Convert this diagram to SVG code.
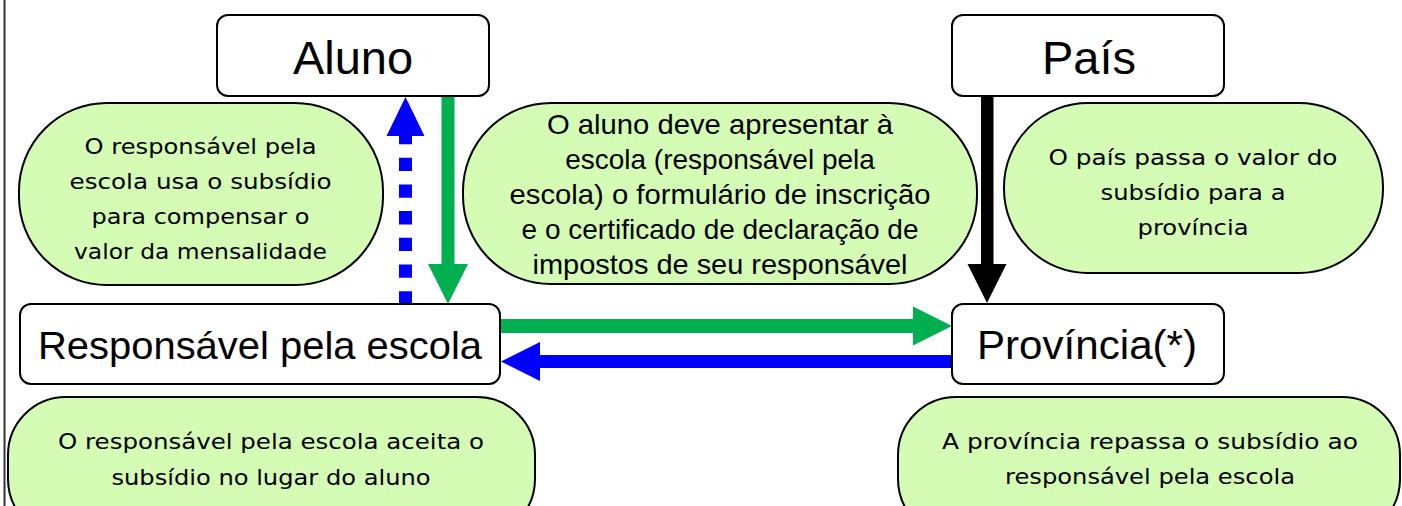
<svg xmlns="http://www.w3.org/2000/svg" width="1402" height="506" viewBox="0 0 1402 506">
<style>
.box{fill:#fff;stroke:#000;stroke-width:2}
.bub{fill:#D4FCB4;stroke:#000;stroke-width:2}
.big{font-family:"Liberation Sans",Arial,sans-serif;fill:#000;text-anchor:middle}
.mid{font-family:"Liberation Sans",Arial,sans-serif;font-size:28px;fill:#000;text-anchor:middle}
.sm{font-family:"DejaVu Sans","Noto Sans",sans-serif;font-size:21px;fill:#000;text-anchor:middle}
</style>
<rect width="1402" height="506" fill="#fff"/>
<line x1="4.5" y1="0" x2="4.5" y2="506" stroke="#333" stroke-width="2"/>

<g id="connectors">
  <!-- Aluno -> Responsavel (green down) -->
  <rect x="441.5" y="96" width="13" height="169" fill="#00B050"/>
  <polygon points="428,264 468,264 448,304" fill="#00B050"/>
  <!-- Responsavel -> Aluno (blue dotted up) -->
  <line x1="405.5" y1="131" x2="405.5" y2="304" stroke="#0000FF" stroke-width="13" stroke-dasharray="13.3 13.4"/>
  <polygon points="386.5,136 424.5,136 405.5,97" fill="#0000FF"/>
  <!-- Pais -> Provincia (black down) -->
  <rect x="981" y="96" width="12.5" height="169" fill="#000"/>
  <polygon points="967.5,264 1006.5,264 987,303" fill="#000"/>
  <!-- Responsavel -> Provincia (green right) -->
  <rect x="500" y="319" width="414" height="14" fill="#00B050"/>
  <polygon points="913,306.5 913,345.5 952,326" fill="#00B050"/>
  <!-- Provincia -> Responsavel (blue left) -->
  <rect x="539" y="355" width="413" height="13" fill="#0000FF"/>
  <polygon points="540,342 540,381 501,361.5" fill="#0000FF"/>
</g>

<g id="node-aluno">
  <rect class="box" x="217" y="15" width="272" height="81" rx="11"/>
  <text class="big" x="353" y="74" font-size="47">Aluno</text>
</g>
<g id="node-pais">
  <rect class="box" x="952" y="15" width="272" height="81" rx="11"/>
  <text class="big" x="1089" y="74" font-size="47">País</text>
</g>
<g id="node-responsavel">
  <rect class="box" x="20" y="304" width="480" height="80" rx="11"/>
  <text class="big" x="260" y="359" font-size="39" textLength="444" lengthAdjust="spacingAndGlyphs">Responsável pela escola</text>
</g>
<g id="node-provincia">
  <rect class="box" x="952" y="304" width="272" height="80" rx="11"/>
  <text class="big" x="1087" y="359" font-size="41.5" textLength="220" lengthAdjust="spacingAndGlyphs">Província(*)</text>
</g>

<g id="note-escola-usa">
  <rect class="bub" x="19" y="103" width="364" height="182" rx="88"/>
  <text class="sm" x="200.5" y="153.5" textLength="232" lengthAdjust="spacingAndGlyphs">O responsável pela</text>
  <text class="sm" x="200.5" y="188.8" textLength="262" lengthAdjust="spacingAndGlyphs">escola usa o subsídio</text>
  <text class="sm" x="200.5" y="224" textLength="218" lengthAdjust="spacingAndGlyphs">para compensar o</text>
  <text class="sm" x="200.5" y="259.3" textLength="253" lengthAdjust="spacingAndGlyphs">valor da mensalidade</text>
</g>
<g id="note-aluno-deve">
  <rect class="bub" x="463" y="103" width="514" height="181" rx="88"/>
  <text class="mid" x="720" y="134" textLength="346" lengthAdjust="spacingAndGlyphs">O aluno deve apresentar à</text>
  <text class="mid" x="720" y="169">escola (responsável pela</text>
  <text class="mid" x="720" y="204" textLength="421" lengthAdjust="spacingAndGlyphs">escola) o formulário de inscrição</text>
  <text class="mid" x="720" y="239">e o certificado de declaração de</text>
  <text class="mid" x="720" y="274" textLength="375" lengthAdjust="spacingAndGlyphs">impostos de seu responsável</text>
</g>
<g id="note-pais-passa">
  <rect class="bub" x="1004" y="103" width="379" height="170" rx="84"/>
  <text class="sm" x="1193" y="165" textLength="289" lengthAdjust="spacingAndGlyphs">O país passa o valor do</text>
  <text class="sm" x="1193" y="200" textLength="185" lengthAdjust="spacingAndGlyphs">subsídio para a</text>
  <text class="sm" x="1193" y="235" textLength="111" lengthAdjust="spacingAndGlyphs">província</text>
</g>
<g id="note-escola-aceita">
  <rect class="bub" x="8" y="397" width="527" height="140" rx="58"/>
  <text class="sm" x="271" y="449" textLength="426" lengthAdjust="spacingAndGlyphs">O responsável pela escola aceita o</text>
  <text class="sm" x="271" y="485" textLength="319" lengthAdjust="spacingAndGlyphs">subsídio no lugar do aluno</text>
</g>
<g id="note-provincia-repassa">
  <rect class="bub" x="898" y="397" width="502" height="140" rx="58"/>
  <text class="sm" x="1150" y="449" textLength="416" lengthAdjust="spacingAndGlyphs">A província repassa o subsídio ao</text>
  <text class="sm" x="1150" y="484" textLength="290" lengthAdjust="spacingAndGlyphs">responsável pela escola</text>
</g>
</svg>
